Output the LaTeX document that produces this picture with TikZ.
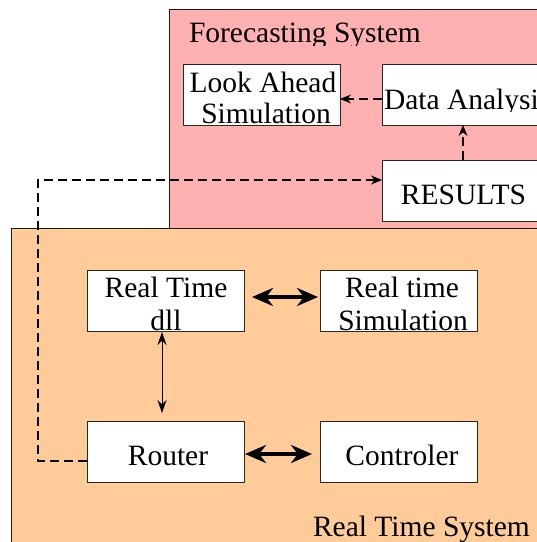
\documentclass[tikz,border=0pt]{standalone}
\usepackage{fontspec}
\setmainfont{Liberation Serif}
\usetikzlibrary{arrows.meta}
\definecolor{pinkfill}{RGB}{255,176,176}
\definecolor{orangefill}{RGB}{255,204,153}
\tikzset{
  sysbox/.style={draw=black!90, line width=0.9pt},
  blk/.style={draw=black!85, fill=white, line width=0.9pt, minimum width=157pt, minimum height=61pt, inner sep=0pt, outer sep=0pt},
  lbl/.style={font=\fontsize{29.5}{32}\selectfont, inner sep=0pt, outer sep=0pt, anchor=base},
  dasharrow/.style={line width=1.2pt, dash pattern=on 9pt off 5pt, -{Stealth[length=11pt,width=9pt]}},
  thinarrow/.style={line width=1pt, {Stealth[length=13pt,width=9pt]}-{Stealth[length=13pt,width=9pt]}},
  thickarrow/.style={line width=4.2pt, {Stealth[length=21pt,width=18pt]}-{Stealth[length=21pt,width=18pt]}}
}
\begin{document}
\begin{tikzpicture}[x=1pt,y=-1pt]
\clip (0,0) rectangle (537,542);
\fill[white] (0,0) rectangle (537,542);
% system frames
\filldraw[sysbox, fill=pinkfill] (169,9) rectangle (600,228);
\filldraw[sysbox, fill=orangefill] (11,228) rectangle (600,600);
% blocks
\node[blk] (la) at (261.5,94.5) {};
\node[blk, minimum width=162pt] (da) at (463,94.5) {};
\node[blk, minimum width=162pt] (res) at (463,190.5) {};
\node[blk] (dll) at (165.5,300.5) {};
\node[blk] (rts) at (398.5,300.5) {};
\node[blk] (rou) at (165.5,451.5) {};
\node[blk] (con) at (398.5,451.5) {};
% texts
\begin{scope}
\clip (169,9) rectangle (537,45);
\node[lbl, anchor=base west] (fst) at (189,42) {Forecasting System};
\end{scope}
\node[lbl] (la1) at (263,92) {Look Ahead};
\node[lbl] (la2) at (266,123) {Simulation};
\begin{scope}
\clip (370,64) rectangle (537,111);
\node[lbl, anchor=base west] (dat) at (384,109) {Data Analysis};
\end{scope}
\node[lbl] (rest) at (463.5,204) {RESULTS};
\node[lbl] (dll1) at (166,297) {Real Time};
\node[lbl] (dll2) at (166,330) {dll};
\node[lbl] (rts1) at (402,297) {Real time};
\node[lbl] (rts2) at (403,330) {Simulation};
\node[lbl] (rout) at (168,465) {Router};
\node[lbl] (cont) at (402,465) {Controler};
\node[lbl, anchor=base west] (rtsys) at (313,536) {Real Time System};
% connectors
\draw[dasharrow] ([yshift=-4.5pt]da.west) -- ([yshift=-4.5pt]la.east);
\draw[dasharrow] (res.north) -- (da.south);
\coordinate (c1) at (38,461);
\coordinate (c2) at (38,180);
\draw[dasharrow] ([yshift=-9.5pt]rou.west) -- (c1) -- (c2) -- ([yshift=10.5pt]res.west);
\draw[thickarrow, shorten <=8pt, shorten >=2pt] ([yshift=3.5pt]dll.east) -- ([yshift=3.5pt]rts.west);
\draw[thickarrow, shorten <=1pt, shorten >=8pt] ([yshift=-2.5pt]rou.east) -- ([yshift=-2.5pt]con.west);
\draw[thinarrow, shorten <=1pt, shorten >=8pt] ([xshift=-3.5pt]dll.south) -- ([xshift=-3.5pt]rou.north);
\end{tikzpicture}
\end{document}
